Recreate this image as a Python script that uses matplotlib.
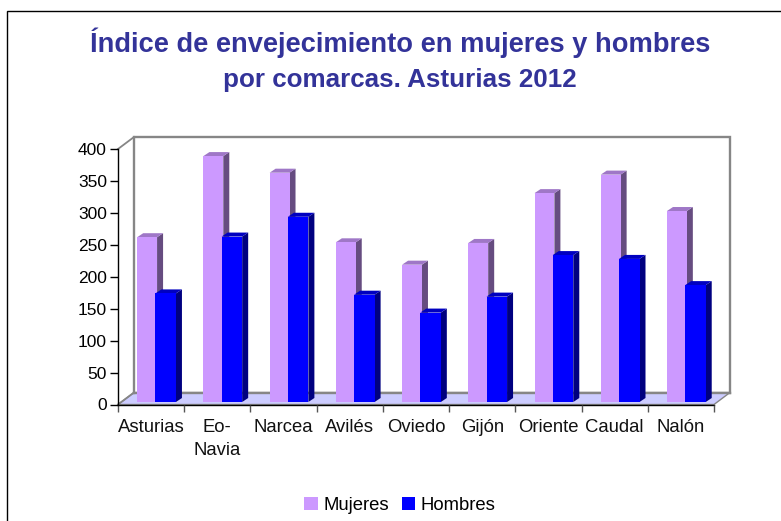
import matplotlib
matplotlib.use("Agg")
import matplotlib.pyplot as plt
from matplotlib.patches import Polygon, Rectangle
from matplotlib.transforms import ScaledTranslation

categories = ["Asturias", "Eo-\nNavia", "Narcea", "Avilés", "Oviedo", "Gijón", "Oriente", "Caudal", "Nalón"]
mujeres = [258, 385, 359, 250, 215, 249, 327, 356, 299]
hombres = [170, 259, 290, 168, 140, 165, 230, 224, 183]
yticks = [0, 50, 100, 150, 200, 250, 300, 350, 400]
title = "Índice de envejecimiento en mujeres y hombres\npor comarcas. Asturias 2012"

W, H = 781, 521
plt.rcParams["font.family"] = ["Liberation Sans", "DejaVu Sans"]
fig = plt.figure(figsize=(W / 100, H / 100), dpi=100)
L, R, T, B = 118, 714, 149, 404.5
ax = fig.add_axes([L / W, 1 - B / H, (R - L) / W, (B - T) / H])
ax.set_xlim(0, len(categories))
ax.set_ylim(0, 400)
ax.patch.set_visible(False)
for s in ("top", "right", "bottom"):
    ax.spines[s].set_visible(False)
ax.spines["left"].set_color("black")
ax.spines["left"].set_linewidth(1)

px = (R - L) / len(categories)   # pixels per category
py = (B - T) / 400               # pixels per value
wall_dx, wall_dy = 16 / px, 12 / py
GREY = "#868686"
# walls and floor
ax.add_patch(Polygon([(0, 0), (wall_dx, wall_dy), (9 + wall_dx, wall_dy), (9, 0)],
                     closed=True, fc="#CCCCFF", ec=GREY, lw=1, zorder=1, clip_on=False))
ax.plot([wall_dx, wall_dx, 9 + wall_dx, 9 + wall_dx], [wall_dy, 400 + wall_dy, 400 + wall_dy, wall_dy],
        color=GREY, lw=1.7, zorder=1, clip_on=False, solid_joinstyle="miter")
ax.plot([wall_dx, 9 + wall_dx], [wall_dy, wall_dy], color=GREY, lw=1.7, zorder=1, clip_on=False)
ax.plot([0, wall_dx], [400, 400 + wall_dy], color=GREY, lw=1.3, zorder=1, clip_on=False)
ax.plot([0, wall_dx], [0, wall_dy], color=GREY, lw=1.3, zorder=1, clip_on=False)
ax.plot([0, 9], [0, 0], color="black", lw=1, zorder=1.5, clip_on=False)

off = ScaledTranslation(0, 2.5 / 100, fig.dpi_scale_trans)
tr = ax.transData + off
d_x, d_y = 6 / px, 4 / py

def bars(vals, left, width, front, side, top, z):
    for i, v in enumerate(vals):
        x0 = i + left
        x1 = x0 + width
        ax.add_patch(Polygon([(x1, 0), (x1 + d_x, d_y), (x1 + d_x, v + d_y), (x1, v)],
                             closed=True, fc=side, ec="none", transform=tr, zorder=z, clip_on=False))
        ax.add_patch(Polygon([(x0, v), (x0 + d_x, v + d_y), (x1 + d_x, v + d_y), (x1, v)],
                             closed=True, fc=top, ec="none", transform=tr, zorder=z, clip_on=False))
        ax.add_patch(Rectangle((x0, 0), width, v, fc=front, ec="none", transform=tr, zorder=z + 0.1, clip_on=False))

bars(mujeres, 0.29, 0.30, "#CC99FF", "#664C80", "#9F77C7", 2)
bars(hombres, 0.565, 0.31, "#0000FF", "#000080", "#0000C0", 3)

ax.set_xticks(range(len(categories) + 1))
ax.set_xticklabels([""] * (len(categories) + 1))
ax.tick_params(axis="x", length=5, width=1, color="#555555", pad=2)
ax.set_yticks(yticks)
ax.tick_params(axis="y", length=6, width=1, labelsize=12.5, pad=2, colors="black")
label_tr = ax.transData + ScaledTranslation(0, -14 / 100, fig.dpi_scale_trans)
for i, c in enumerate(categories):
    ax.text(i + 0.5, 0, c, transform=label_tr, ha="center", va="top", fontsize=13.3,
            linespacing=1.5, clip_on=False, color="#111111")

line1, line2 = title.split("\n")
fig.text(400.5 / W, 1 - 43 / H, line1, ha="center", va="center", fontsize=19.6,
         fontweight="bold", color="#333399")
fig.text(400 / W, 1 - 80 / H, line2, ha="center", va="center", fontsize=18.7,
         fontweight="bold", color="#333399")

# outer frame, running off the right and bottom edges
fig.add_artist(Rectangle((7.5 / W, -0.05), 1.1, 1.05 - 11 / H, transform=fig.transFigure,
                         fc="none", ec="black", lw=1))
# legend
handles = [Rectangle((0, 0), 1, 1, fc="#CC99FF"), Rectangle((0, 0), 1, 1, fc="#0000FF")]
fig.legend(handles, ["Mujeres", "Hombres"], ncol=2, frameon=False, fontsize=13.3,
           loc="center", bbox_to_anchor=(400 / W, 1 - 505.5 / H), handlelength=0.72, handleheight=0.72,
           handletextpad=0.3, columnspacing=0.7, borderpad=0)
fig.savefig("out.png", dpi=100)
